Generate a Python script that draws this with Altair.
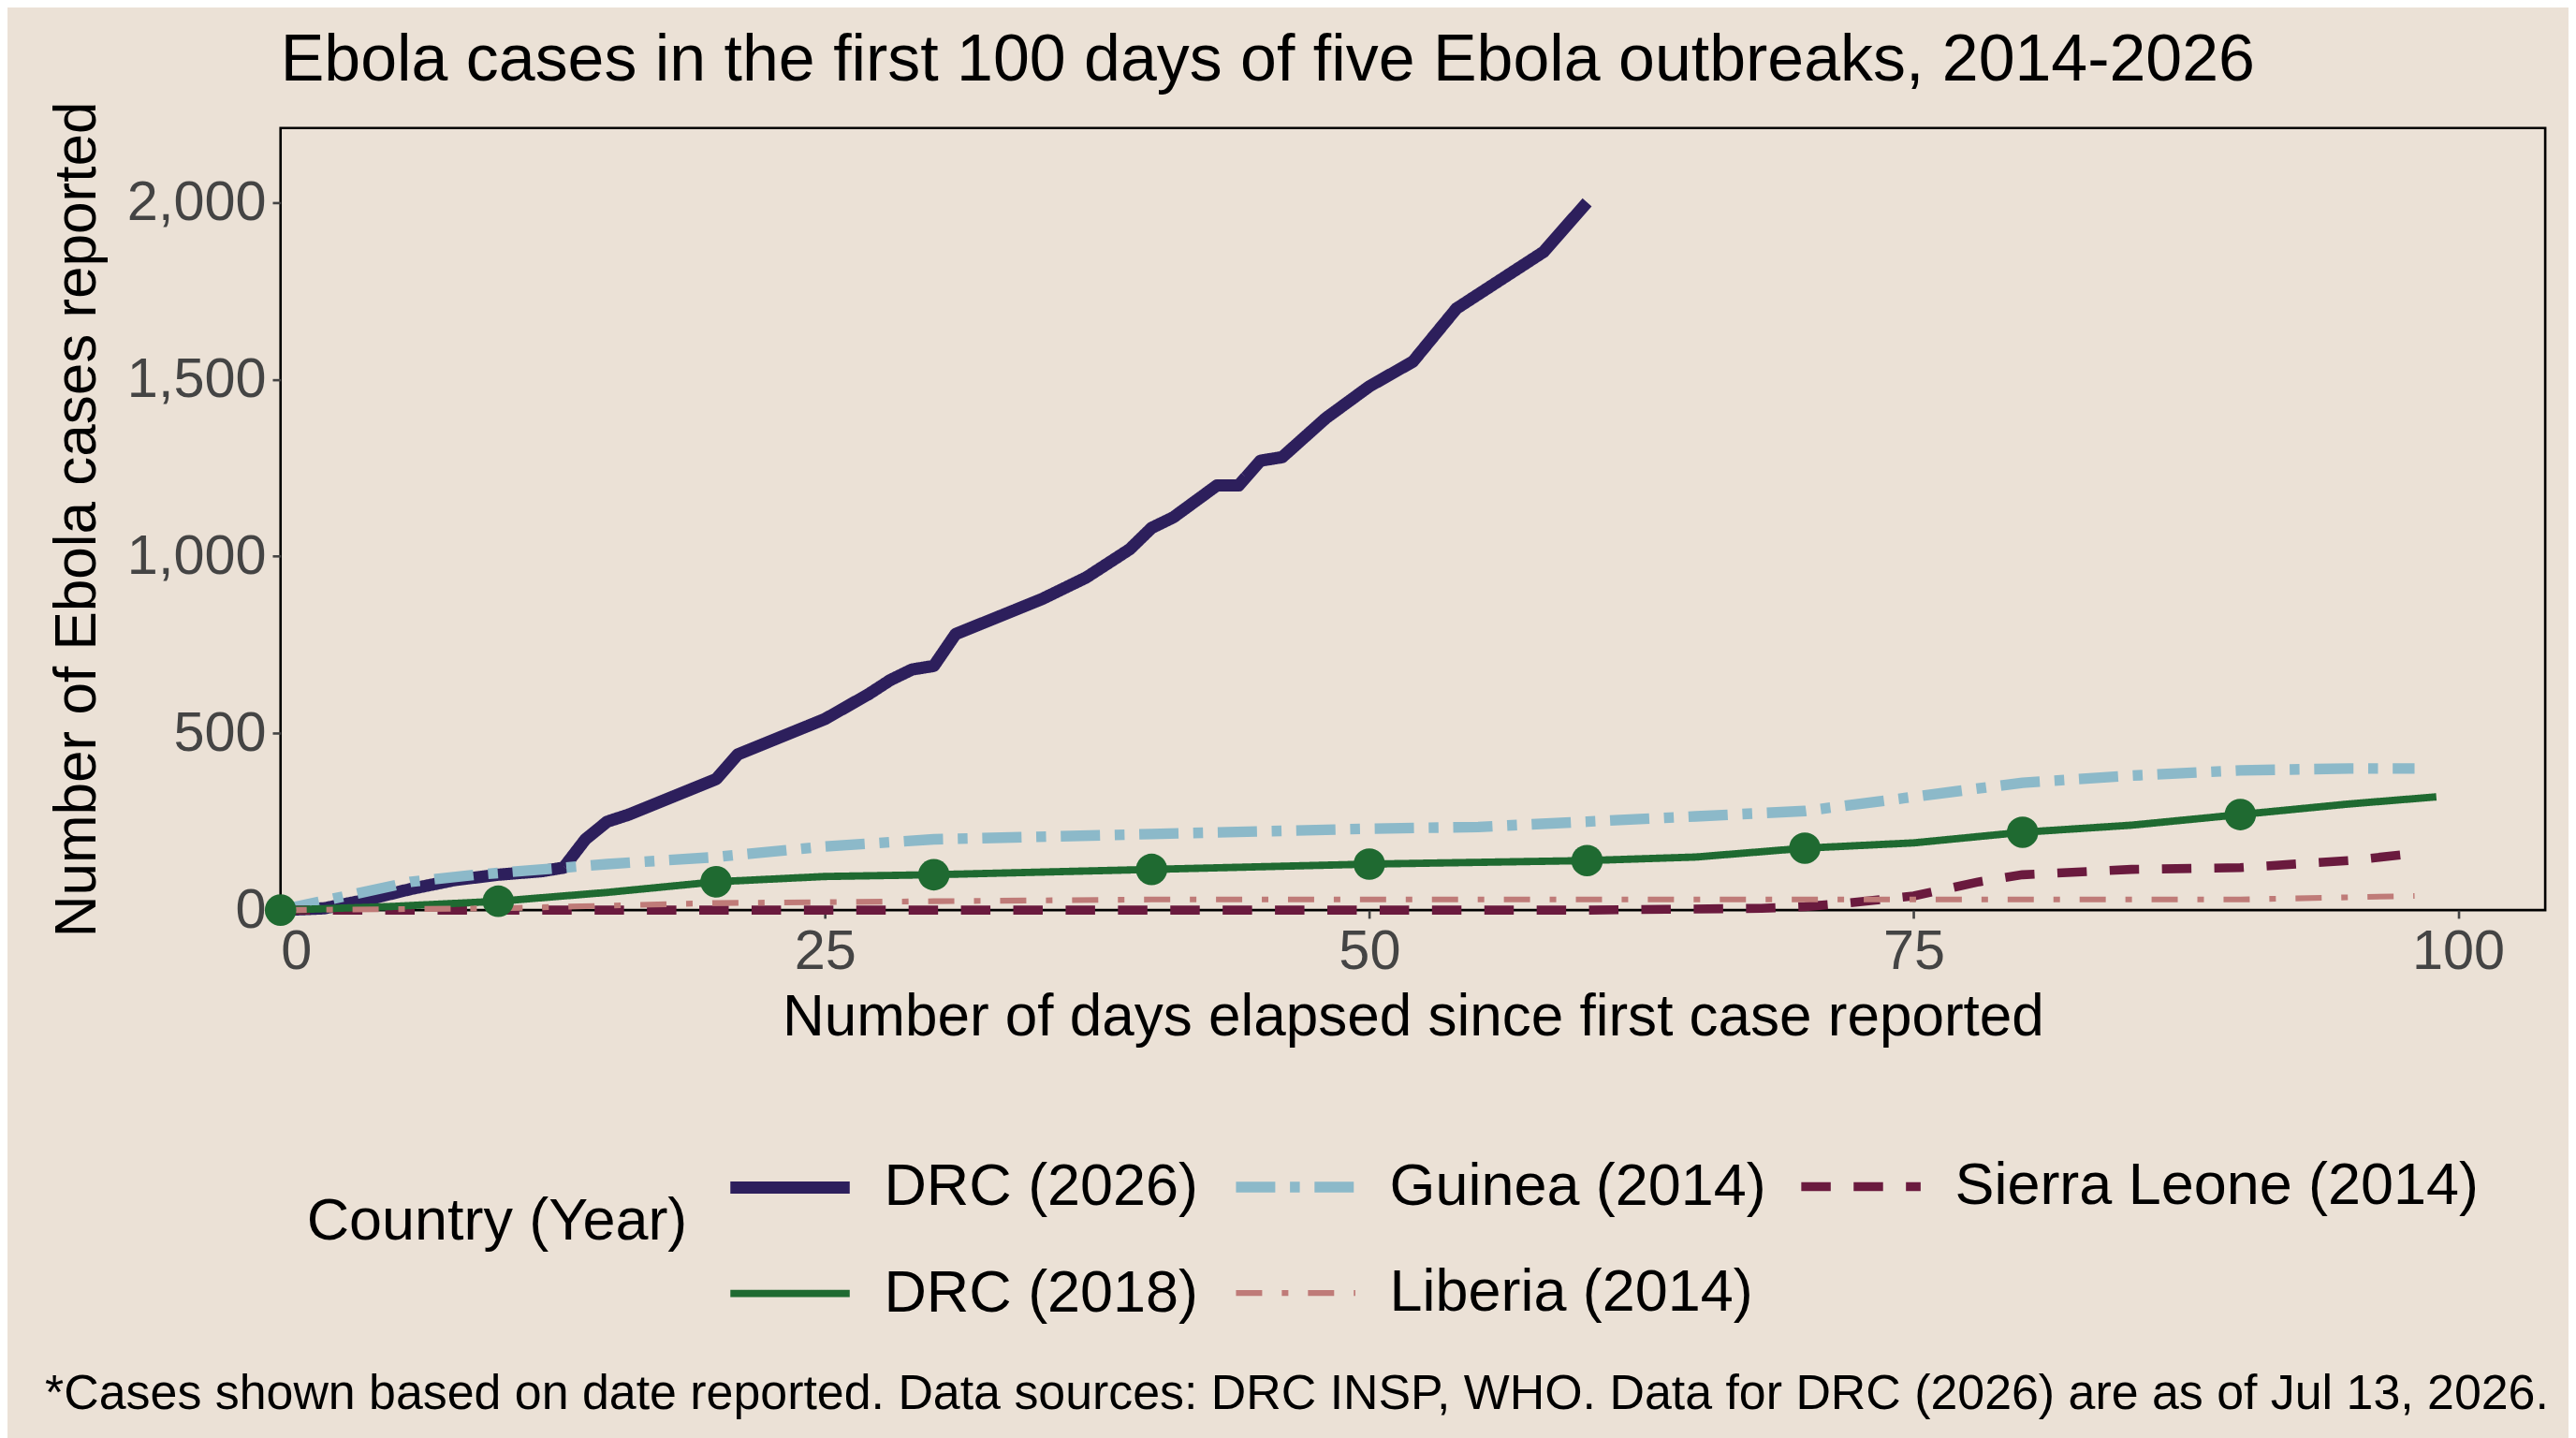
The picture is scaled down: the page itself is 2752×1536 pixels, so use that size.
import altair as alt
import pandas as pd

S = 1.755
series = ["DRC (2026)", "Guinea (2014)", "Sierra Leone (2014)", "DRC (2018)", "Liberia (2014)"]
colors = ["#2d1f5c", "#8cb9c9", "#6a1a3e", "#1f6a31", "#bf7b78"]

drc26_day = [0,2,4,6,8,10,12,13,14,15,16,18,20,21,23,25,27,28,29,30,31,33,35,37,39,40,41,43,44,45,46,48,50,52,54,56,58,60]
drc26_val = [0,5,30,60,85,100,110,120,200,250,270,320,370,440,490,540,610,650,680,690,780,830,880,940,1020,1080,1110,1200,1200,1270,1280,1390,1480,1550,1700,1780,1860,2000]
gui_day = [0,3,6,9,15,20,25,30,40,50,55,60,65,70,75,80,85,90,95,98]
gui_val = [0,40,80,100,130,150,180,200,215,230,235,250,265,280,320,360,380,395,400,400]
drc18_day = [0,5,10,15,20,25,30,40,50,60,65,70,75,80,85,90,95,99]
drc18_val = [0,10,25,50,80,95,100,115,130,140,150,175,190,220,240,270,300,320]
sl_day = [0,10,20,30,40,50,60,68,70,72,75,78,80,85,90,95,98]
sl_val = [0,0,0,0,0,0,0,5,10,20,40,80,100,115,120,140,160]
lib_day = [0,10,20,30,40,50,60,70,75,80,90,98]
lib_val = [0,5,20,25,30,30,30,30,30,30,30,40]
marker_days = [0,10,20,30,40,50,60,70,80,90]
marker_vals = [0,25,80,100,115,130,140,175,220,270]

rows = []
for name, d, v in [(series[0], drc26_day, drc26_val), (series[1], gui_day, gui_val),
                   (series[2], sl_day, sl_val), (series[3], drc18_day, drc18_val),
                   (series[4], lib_day, lib_val)]:
    rows += [{"series": name, "day": a, "cases": b} for a, b in zip(d, v)]
df = pd.DataFrame(rows)
mk = pd.DataFrame({"series": series[3], "day": marker_days, "cases": marker_vals})

W, H = 2430, 839
FONT = "Liberation Sans"
dash = [[1, 0], [24*S, 9*S, 6*S, 9*S], [18*S, 14*S], [1, 0], [16*S, 12*S, 4*S, 12*S]]
widths = [7.5*S, 3.5*S, 3.5*S, 3.5*S, 3.5*S]

leg = alt.Legend(orient="none", legendX=16*S, legendY=(717 - 77 - 33)*S,
                 direction="horizontal", columns=3, titleOrient="left",
                 symbolType="M-1,0L1,0", symbolSize=16400, labelFontSize=36*S, titleFontSize=36*S,
                 labelFont=FONT, titleFont=FONT, titleFontWeight="normal", labelColor="black",
                 titleColor="black", columnPadding=10*S, rowPadding=8*S,
                 titlePadding=22*S, labelOffset=17*S, labelLimit=1000, titleLimit=1000)
x = alt.X("day:Q", scale=alt.Scale(domain=[0, 104], nice=False),
          axis=alt.Axis(values=[0,25,50,75,100], title="Number of days elapsed since first case reported"))
y = alt.Y("cases:Q", scale=alt.Scale(domain=[0, 2210], nice=False),
          axis=alt.Axis(values=[0,500,1000,1500,2000], format=",.0f", title="Number of Ebola cases reported"))

lines = alt.Chart(df).mark_line(strokeJoin="round").encode(
    x=x, y=y,
    color=alt.Color("series:N", scale=alt.Scale(domain=series, range=colors), legend=leg, title="Country (Year)"),
    strokeDash=alt.StrokeDash("series:N", scale=alt.Scale(domain=series, range=dash), legend=leg, title="Country (Year)"),
    strokeWidth=alt.StrokeWidth("series:N", scale=alt.Scale(domain=series, range=widths), legend=leg, title="Country (Year)"),
    order=alt.Order("day:Q"),
)
pts = alt.Chart(mk).mark_circle(size=650*S, opacity=1, color="#1f6a31").encode(x="day:Q", y="cases:Q")
note = alt.Chart(pd.DataFrame({"t": ["*Cases shown based on date reported. Data sources: DRC INSP, WHO. Data for DRC (2026) are as of Jul 13, 2026."]})).mark_text(
    align="left", baseline="middle", fontSize=29.7*S, font=FONT, color="black").encode(
    text="t:N", x=alt.value(-144*S), y=alt.value(H + 296*S))

chart = alt.layer(lines, pts, note).properties(
    width=W, height=H, background="#ebe1d6", padding={"left": 40, "top": 18, "right": 20, "bottom": 20},
    title=alt.Title("Ebola cases in the first 100 days of five Ebola outbreaks, 2014-2026", anchor="start",
                    frame="group", fontSize=40*S, font=FONT, fontWeight="normal", color="black", offset=4*S),
).configure_view(stroke="black", strokeWidth=1.5*S, fill=None).configure_axis(
    grid=False, labelFont=FONT, titleFont=FONT, labelFontSize=34*S, titleFontSize=35.5*S,
    labelColor="#444444", titleColor="black", titleFontWeight="normal", tickColor="#444444",
    tickSize=5*S, tickWidth=1.5*S, domain=False, labelPadding=4*S,
).configure_axisY(titlePadding=12*S).configure_axisX(titlePadding=6*S)

chart.save("out.html", embed_options={"renderer": "svg", "actions": False})
